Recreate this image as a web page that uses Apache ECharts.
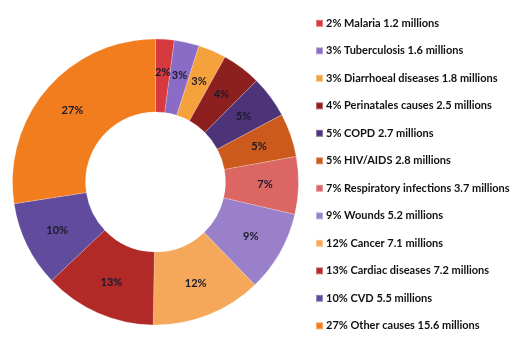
<!DOCTYPE html>
<html>
<head>
<meta charset="utf-8">
<script src="https://cdn.jsdelivr.net/npm/echarts@6/dist/echarts.min.js"></script>
<style>
  html, body { margin: 0; padding: 0; background: #fff; }
  #chart { width: 514px; height: 352px; }
</style>
</head>
<body>
<div id="chart"></div>
<script>
// causes of death, millions
const causes = ['Malaria', 'Tuberculosis', 'Diarrhoeal diseases', 'Perinatales causes', 'COPD', 'HIV/AIDS',
    'Respiratory infections', 'Wounds', 'Cancer', 'Cardiac diseases', 'CVD', 'Other causes'];
const millions = [1.2, 1.6, 1.8, 2.5, 2.7, 2.8, 3.7, 5.2, 7.1, 7.2, 5.5, 15.6];
const shares = [2, 3, 3, 4, 5, 5, 7, 9, 12, 13, 10, 27];
const colors = ['#d63a3e', '#8a6cc6', '#f5a23c', '#8e1f1f', '#4d3478', '#cc5a1c',
    '#dc6663', '#9a80c8', '#f6a85a', '#b22a28', '#614b9c', '#f27d1e'];

document.addEventListener('DOMContentLoaded', () => {
    const myChart = echarts.init(document.getElementById('chart'));
    const data = causes.map((name, i) => ({
        name: shares[i] + '% ' + name + ' ' + millions[i] + ' millions',
        value: millions[i],
        share: shares[i],
        itemStyle: { color: colors[i] }
    }));
    myChart.setOption({
        animation: false,
        legend: {
            orient: 'vertical',
            left: 315,
            top: 17,
            padding: 0,
            itemWidth: 7,
            itemHeight: 7,
            itemGap: 14.8,
            icon: 'rect',
            textStyle: {
                fontFamily: 'Lato',
                fontWeight: 'bold',
                fontSize: 11,
                lineHeight: 12.7,
                color: '#111',
                padding: [0, 0, 0, -2]
            },
            data: data.map(d => d.name)
        },
        series: [{
            type: 'pie',
            center: [155.5, 182],
            radius: [70, 143],
            startAngle: 90,
            clockwise: true,
            avoidLabelOverlap: false,
            itemStyle: { borderColor: 'rgba(255,255,255,0.35)', borderWidth: 0.6 },
            label: {
                position: 'inside',
                formatter: p => p.data.share + '%',
                fontFamily: 'Lato',
                fontWeight: 'bold',
                fontSize: 11,
                color: '#1a1a2a'
            },
            labelLine: { show: false },
            data: data
        }]
    });
});
</script>
</body>
</html>
